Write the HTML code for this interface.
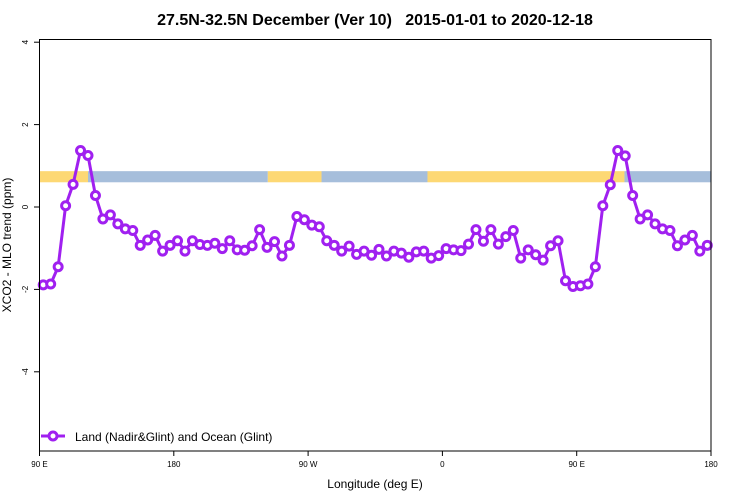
<!DOCTYPE html>
<html><head><meta charset="utf-8"><style>
html,body{margin:0;padding:0;background:#fff;}
svg{display:block;font-family:"Liberation Sans",sans-serif;}
</style></head><body>
<svg id="chart" width="750" height="500" viewBox="0 0 750 500">
<text x="375" y="25" text-anchor="middle" font-size="16" font-weight="bold" style="white-space:pre">27.5N-32.5N December (Ver 10)   2015-01-01 to 2020-12-18</text>
<g id="band"></g>
<g id="axes"></g>
<g id="series"></g>
<rect x="39.5" y="39.5" width="671.5" height="411.5" fill="none" stroke="#000" stroke-width="1"/>
<g>
<line x1="41" y1="436" x2="65" y2="436" stroke="#a020f0" stroke-width="3"/>
<circle cx="53" cy="436" r="4" fill="#fff" stroke="#a020f0" stroke-width="3"/>
<text x="75" y="441" font-size="12">Land (Nadir&amp;Glint) and Ocean (Glint)</text>
</g>
<text x="375" y="488" text-anchor="middle" font-size="12">Longitude (deg E)</text>
<text transform="translate(11,245) rotate(-90)" text-anchor="middle" font-size="12">XCO2 - MLO trend (ppm)</text>
</svg>
<script>
const xTickVals = [90, 180, 270, 360, 450, 540];
const xTickLabels = ["90 E", "180", "90 W", "0", "90 E", "180"];
const yTickVals = [4, 2, 0, -2, -4];
const yTickLabels = ["4", "2", "0", "-2", "-4"];
const lonStart = 92.5, lonStep = 5;
const values = [-1.89,-1.87,-1.45,0.03,0.55,1.37,1.25,0.28,-0.29,-0.19,-0.41,-0.53,-0.57,-0.93,-0.80,-0.69,-1.07,-0.93,-0.82,-1.07,-0.82,-0.91,-0.93,-0.88,-1.01,-0.82,-1.04,-1.05,-0.94,-0.55,-0.98,-0.84,-1.19,-0.93,-0.23,-0.31,-0.44,-0.48,-0.82,-0.93,-1.07,-0.95,-1.15,-1.07,-1.17,-1.03,-1.19,-1.07,-1.12,-1.22,-1.09,-1.07,-1.24,-1.18,-1.01,-1.04,-1.06,-0.90,-0.55,-0.83,-0.55,-0.90,-0.72,-0.57,-1.24,-1.04,-1.16,-1.29,-0.94,-0.82,-1.79,-1.93,-1.91,-1.87,-1.45,0.03,0.54,1.37,1.24,0.28,-0.29,-0.19,-0.41,-0.53,-0.57,-0.94,-0.80,-0.69,-1.07,-0.93];
const bandLon = [90, 122.5, 243, 279, 350, 482, 540];
const bandType = ["land","ocean","land","ocean","land","ocean"];
const NS="http://www.w3.org/2000/svg";
const x = lon => 39.5 + (lon-90)*671.5/450;
const y = v => 207 - v*41.2;
function mk(tag, attrs, parent){const e=document.createElementNS(NS,tag);for(const k in attrs)e.setAttribute(k,attrs[k]);parent.appendChild(e);return e;}
const band=document.getElementById('band');
for(let i=0;i<bandType.length;i++){
  const r=mk('rect',{x:x(bandLon[i]),y:y(0.87),width:x(bandLon[i+1])-x(bandLon[i]),height:y(0.6)-y(0.87),fill:bandType[i]==='land'?'#fdd874':'#a6bedb'},band);
  
  
}
const axes=document.getElementById('axes');
xTickVals.forEach((v,i)=>{
  mk('line',{x1:x(v),y1:451,x2:x(v),y2:456,stroke:'#000'},axes);
  const t=mk('text',{x:x(v),y:467,'text-anchor':'middle','font-size':'8'},axes);
  t.textContent=xTickLabels[i];
  
  
});
yTickVals.forEach((v,i)=>{
  mk('line',{x1:34,y1:y(v),x2:39.5,y2:y(v),stroke:'#000'},axes);
  const t=mk('text',{transform:`translate(28,${y(v)}) rotate(-90)`,'text-anchor':'middle','font-size':'8'},axes);
  t.textContent=yTickLabels[i];
  
  
});
const s=document.getElementById('series');
const pts=values.map((v,i)=>[x(lonStart+i*lonStep),y(v)]);
const pl=mk('polyline',{points:pts.map(p=>p.join(',')).join(' '),fill:'none',stroke:'#a020f0','stroke-width':3,'stroke-linejoin':'round'},s);


pts.forEach(p=>{
  const c=mk('circle',{cx:p[0],cy:p[1],r:4,fill:'#fff',stroke:'#a020f0','stroke-width':3},s);
  
  
});
</script>
</body></html>
